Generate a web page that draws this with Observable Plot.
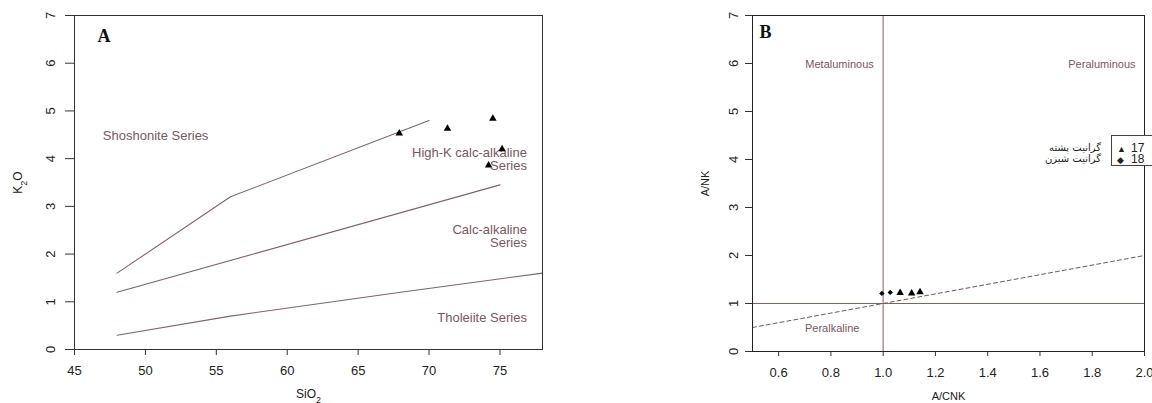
<!DOCTYPE html>
<html>
<head>
<meta charset="utf-8">
<script src="https://cdn.jsdelivr.net/npm/d3@7"></script>
<script src="https://cdn.jsdelivr.net/npm/@observablehq/plot@0.6"></script>
<style>
  html, body { margin: 0; padding: 0; background: #fff; overflow: hidden; }
  #wrap { position: relative; width: 1152px; height: 403px; overflow: hidden; display: flex; }
  #wrap svg { display: block; }
  .legend { position: absolute; left: 1111px; top: 135px; width: 60px; height: 29px;
            border: 1px solid #444; border-right: none; background: #fff;
            font: 12px "Liberation Sans", Arial, sans-serif; color: #222; }
  .legend .row { position: absolute; left: 5px; height: 11px; line-height: 11px; white-space: nowrap; }
  .legend .sym { display: inline-block; width: 14px; font-size: 9px; }
  .names { position: absolute; right: 51px; top: 142px; text-align: right; direction: rtl;
           font: 10px "DejaVu Sans", "Noto Sans", sans-serif; color: #222; line-height: 11px; }
</style>
</head>
<body>
<div id="wrap"></div>
<script>
// ---- Panel A: K2O vs SiO2 series discrimination ----
const sio2 = [67.9, 71.3, 74.5, 75.15, 74.2];
const k2o  = [4.53, 4.63, 4.84, 4.20, 3.86];

// series boundary lines (SiO2, K2O vertices)
const shoshoniteLineX = [48, 56, 70];
const shoshoniteLineY = [1.6, 3.2, 4.8];
const highKLineX = [48, 75];
const highKLineY = [1.2, 3.45];
const tholeiiteLineX = [48, 56, 68, 78];
const tholeiiteLineY = [0.3, 0.7, 1.2, 1.6];

// left-aligned field label
const leftLabels = ["Shoshonite Series"];
const leftLabelX = [47.0];
const leftLabelY = [4.47];
// right-aligned field labels
const rightLabels = ["High-K calc-alkaline\nSeries", "Calc-alkaline\nSeries", "Tholeiite Series"];
const rightLabelX = [76.9, 76.9, 76.9];
const rightLabelY = [3.98, 2.37, 0.67];

const xTicksA = [45, 50, 55, 60, 65, 70, 75];
const yTicks = [0, 1, 2, 3, 4, 5, 6, 7];

// ---- Panel B: A/NK vs A/CNK (Shand index) ----
const acnkTri = [1.065, 1.109, 1.141];
const ankTri  = [1.22, 1.21, 1.24];
const acnkDia = [0.995, 1.027];
const ankDia  = [1.21, 1.23];

const refLineX = [0.5, 2.0];
const refLineY = [0.5, 2.0];

const fieldLabels = ["Metaluminous", "Peraluminous", "Peralkaline"];
const fieldLabelX = [0.833, 1.837, 0.805];
const fieldLabelY = [5.98, 5.98, 0.47];

const xTicksB = [0.6, 0.8, 1.0, 1.2, 1.4, 1.6, 1.8, 2.0];

const legendCodes = ["17", "18"];
const legendNames = ["گرانیت پشته", "گرانیت شیزن"];

const zip = (xs, ys, extra = {}) => xs.map((x, i) => ({x, y: ys[i], ...Object.fromEntries(Object.entries(extra).map(([k, v]) => [k, v[i]]))}));

const labelColor = "#7e5560";
const lineColor = "#8c5e60";
const font = "'Liberation Sans', Arial, sans-serif";
const serif = "'Liberation Serif', 'Times New Roman', serif";

// Panel A
const plotA = Plot.plot({
  width: 576, height: 403,
  marginLeft: 74, marginRight: 34, marginTop: 15, marginBottom: 54,
  style: {fontFamily: font, background: "white", overflow: "visible"},
  x: {domain: [45, 78], axis: null},
  y: {domain: [0, 7], axis: null},
  marks: [
    Plot.axisX({ticks: xTicksA, tickSize: 6, tickPadding: 10, tickFormat: d => String(d), fontSize: 13, fill: "#222", stroke: "#333", label: null}),
    Plot.axisY({ticks: yTicks, tickSize: 9, tickFormat: () => "", stroke: "#333", label: null}),
    Plot.text(yTicks, {y: d => d, text: d => String(d), frameAnchor: "left", dx: -24, rotate: -90,
      textAnchor: "middle", lineAnchor: "middle", fontSize: 13, fill: "#222"}),
    Plot.line(zip(shoshoniteLineX, shoshoniteLineY), {x: "x", y: "y", stroke: lineColor, strokeWidth: 1.1}),
    Plot.line(zip(highKLineX, highKLineY), {x: "x", y: "y", stroke: lineColor, strokeWidth: 1.1}),
    Plot.line(zip(tholeiiteLineX, tholeiiteLineY), {x: "x", y: "y", stroke: lineColor, strokeWidth: 1.1}),
    Plot.text(zip(leftLabelX, leftLabelY, {t: leftLabels}), {x: "x", y: "y", text: "t",
      textAnchor: "start", fontSize: 13, fill: labelColor}),
    Plot.text(zip(rightLabelX, rightLabelY, {t: rightLabels}), {x: "x", y: "y", text: "t",
      textAnchor: "end", lineHeight: 0.98, fontSize: 13, fill: labelColor}),
    Plot.dot(zip(sio2, k2o), {x: "x", y: "y", symbol: "triangle", r: 2.8, fill: "black", stroke: null}),
    Plot.frame({stroke: "#333", strokeWidth: 1}),
    Plot.text(["A"], {frameAnchor: "top-left", dx: 23, dy: 21, text: d => d, textAnchor: "start",
      lineAnchor: "middle", fontFamily: serif, fontWeight: "bold", fontSize: 18, fill: "#111"}),
    Plot.text(["K2O"], {frameAnchor: "left", dx: -56, rotate: -90, text: d => d, textAnchor: "middle",
      lineAnchor: "middle", fontSize: 12, fill: "#222"}),
    Plot.text(["SiO2"], {frameAnchor: "bottom", dy: 45, text: d => d, textAnchor: "middle",
      lineAnchor: "middle", fontSize: 12, fill: "#222"})
  ]
});

// Panel B
const plotB = Plot.plot({
  width: 576, height: 403,
  marginLeft: 176, marginRight: 8, marginTop: 15, marginBottom: 52,
  style: {fontFamily: font, background: "white", overflow: "visible"},
  x: {domain: [0.5, 2.0], axis: null},
  y: {domain: [0, 7], axis: null},
  marks: [
    Plot.axisX({ticks: xTicksB, tickSize: 5, tickPadding: 11, tickFormat: d => d.toFixed(1), fontSize: 13, fill: "#222", stroke: "#333", label: null}),
    Plot.axisY({ticks: yTicks, tickSize: 7, tickFormat: () => "", stroke: "#333", label: null}),
    Plot.text(yTicks, {y: d => d, text: d => String(d), frameAnchor: "left", dx: -19, rotate: -90,
      textAnchor: "middle", lineAnchor: "middle", fontSize: 13, fill: "#222"}),
    Plot.ruleX([1.0], {stroke: "#b98f93", strokeWidth: 1.5}),
    Plot.ruleY([1.0], {stroke: "#9a5a4c", strokeWidth: 1.1}),
    Plot.line(zip(refLineX, refLineY), {x: "x", y: "y", stroke: "#6e5a5c", strokeWidth: 1, strokeDasharray: "4,3"}),
    Plot.text(zip(fieldLabelX, fieldLabelY, {t: fieldLabels}), {x: "x", y: "y", text: "t",
      fontSize: 11, fill: labelColor}),
    Plot.dot(zip(acnkDia, ankDia), {x: "x", y: "y", symbol: "diamond2", r: 2.4, fill: "black", stroke: null}),
    Plot.dot(zip(acnkTri, ankTri), {x: "x", y: "y", symbol: "triangle", r: 2.8, fill: "black", stroke: null}),
    Plot.frame({stroke: "#222", strokeWidth: 1}),
    Plot.text(["B"], {frameAnchor: "top-left", dx: 7, dy: 17, text: d => d, textAnchor: "start",
      lineAnchor: "middle", fontFamily: serif, fontWeight: "bold", fontSize: 18, fill: "#111"}),
    Plot.text(["A/NK"], {frameAnchor: "left", dx: -47, rotate: -90, text: d => d, textAnchor: "middle",
      lineAnchor: "middle", fontSize: 11, fill: "#222"}),
    Plot.text(["A/CNK"], {frameAnchor: "bottom", dy: 45, text: d => d, textAnchor: "middle",
      lineAnchor: "middle", fontSize: 11, fill: "#222"})
  ]
});

const wrap = document.getElementById("wrap");
wrap.append(plotA, plotB);

// chemical formulas: lower the "2" as a subscript
d3.selectAll("#wrap svg text").each(function () {
  const t = this.textContent;
  if (t === "K2O" || t === "SiO2") {
    const [pre, post] = t.split("2");
    const el = d3.select(this);
    el.text(null);
    el.append("tspan").text(pre);
    el.append("tspan").attr("baseline-shift", "sub").attr("font-size", "9").text("2");
    if (post) el.append("tspan").attr("baseline-shift", "0").text(post);
  }
});

// legend for panel B
const legend = document.createElement("div");
legend.className = "legend";
const syms = ["▲", "◆"];
legendCodes.forEach((c, i) => {
  const row = document.createElement("div");
  row.className = "row";
  row.style.top = (7 + i * 11) + "px";
  row.innerHTML = `<span class="sym">${syms[i]}</span>${c}`;
  legend.appendChild(row);
});
wrap.appendChild(legend);
const names = document.createElement("div");
names.className = "names";
names.innerHTML = legendNames.join("<br>");
wrap.appendChild(names);
</script>
</body>
</html>
